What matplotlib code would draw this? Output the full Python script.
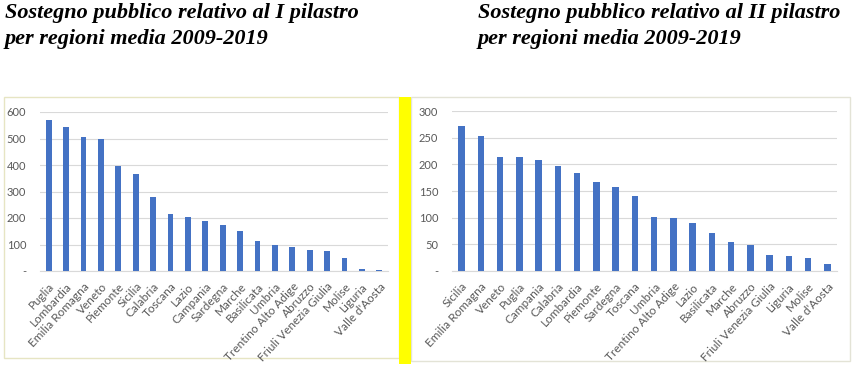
import matplotlib.pyplot as plt
from matplotlib.patches import Rectangle

# dati: I pilastro
regioni_1 = ['Puglia', 'Lombardia', 'Emilia Romagna', 'Veneto', 'Piemonte', 'Sicilia',
             'Calabria', 'Toscana', 'Lazio', 'Campania', 'Sardegna', 'Marche',
             'Basilicata', 'Umbria', 'Trentino Alto Adige', 'Abruzzo',
             'Friuli Venezia Giulia', 'Molise', 'Liguria', "Valle d'Aosta"]
valori_1 = [570, 543, 507, 499, 397, 366, 279, 216, 204, 188, 174, 151,
            112, 98, 91, 79, 76, 49, 8, 4]
ticks_1 = [0, 100, 200, 300, 400, 500, 600]

# dati: II pilastro
regioni_2 = ['Sicilia', 'Emilia Romagna', 'Veneto', 'Puglia', 'Campania', 'Calabria',
             'Lombardia', 'Piemonte', 'Sardegna', 'Toscana', 'Umbria',
             'Trentino Alto Adige', 'Lazio', 'Basilicata', 'Marche', 'Abruzzo',
             'Friuli Venezia Giulia', 'Liguria', 'Molise', "Valle d'Aosta"]
valori_2 = [272, 254, 214, 214, 208, 197, 184, 167, 157, 141, 102, 99,
            90, 71, 54, 48, 30, 29, 24, 13]
ticks_2 = [0, 50, 100, 150, 200, 250, 300]

titolo_1 = 'Sostegno pubblico relativo al I pilastro\nper regioni media 2009-2019'
titolo_2 = 'Sostegno pubblico relativo al II pilastro\nper regioni media 2009-2019'

W, H = 864, 365
fig = plt.figure(figsize=(W / 100, H / 100), dpi=100)


def px_rect(x0, y0, x1, y1, **kw):
    # rettangolo in pixel (origine in alto a sinistra)
    r = Rectangle((x0 / W, 1 - y1 / H), (x1 - x0) / W, (y1 - y0) / H,
                  transform=fig.transFigure, zorder=-5, **kw)
    fig.patches.append(r)


# cornici dei grafici e striscia gialla
px_rect(4, 97, 399, 358, facecolor='white', edgecolor='#e6e5c3', lw=1.0)
px_rect(411, 97, 850, 361, facecolor='white', edgecolor='#e3e3d6', lw=1.0)
px_rect(399, 97, 411, 364, facecolor='#ffff00', edgecolor='none')

fig.text(5 / W, 1 - 3 / H, titolo_1, ha='left', va='top', fontsize=16,
         family='Liberation Serif', style='italic', weight='bold', linespacing=1.4)
fig.text(478 / W, 1 - 3 / H, titolo_2, ha='left', va='top', fontsize=16,
         family='Liberation Serif', style='italic', weight='bold', linespacing=1.4)


def disegna(ax, regioni, valori, ticks):
    x = range(len(regioni))
    ax.bar(x, valori, width=0.33, color='#4472c4', zorder=3)
    ax.set_xlim(-0.5, len(regioni) - 0.5)
    ax.set_ylim(ticks[0], ticks[-1])
    ax.set_yticks(ticks)
    ax.set_yticklabels(['-' if t == 0 else str(t) for t in ticks], family='Lato')
    ax.set_xticks(list(x))
    ax.set_xticklabels(regioni, rotation=47, ha='right', rotation_mode='anchor',
                       family='Lato')
    ax.grid(axis='y', color='#d9d9d9', lw=0.8, zorder=0)
    for s in ['top', 'right', 'left']:
        ax.spines[s].set_visible(False)
    ax.spines['bottom'].set_color('#d9d9d9')
    ax.tick_params(length=0, labelsize=8.5, colors='#595959')
    ax.tick_params(axis='x', pad=7)
    ax.tick_params(axis='y', pad=10, labelsize=8)
    ax.patch.set_alpha(0)


ax1 = fig.add_axes([40 / W, 1 - 271 / H, 348 / W, 159 / H])
disegna(ax1, regioni_1, valori_1, ticks_1)
ax2 = fig.add_axes([452 / W, 1 - 271 / H, 385 / W, 160 / H])
disegna(ax2, regioni_2, valori_2, ticks_2)

fig.savefig('out.png', dpi=100)
